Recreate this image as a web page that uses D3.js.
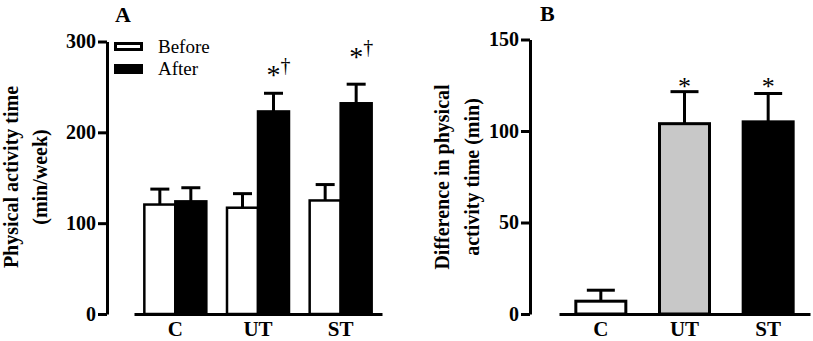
<!DOCTYPE html>
<html>
<head>
<meta charset="utf-8">
<script src="https://cdn.jsdelivr.net/npm/d3@7"></script>
<style>
  body { margin: 0; background: #fff; }
  svg { display: block; }
  text { font-family: "Liberation Serif", "Times New Roman", serif; fill: #000; }
</style>
</head>
<body>
<div id="container"></div>
<script>
// data
let groups = ["C", "UT", "ST"];
let phases = ["Before", "After"];

// panel A: physical activity time (min/week)
let beforeMean = [120.5, 117, 125];
let beforeSem = [17, 15.5, 17.5];
let afterMean = [124, 223, 232];
let afterSem = [15, 20, 21];
let sigA = ["", "*\u2020", "*\u2020"];
let sigAHeight = [null, 267, 287];
let ticksA = [0, 100, 200, 300];

// panel B: difference (min)
let diffMean = [7, 104, 105];
let diffSem = [6, 17.5, 15.5];
let sigB = ["", "*", "*"];
let sigBHeight = [null, 126.5, 126.5];
let ticksB = [0, 50, 100, 150];
let diffColors = ["#ffffff", "#c8c8c8", "#000000"];

let w = 813;
let h = 341;

let viz = d3.select("#container")
  .append("svg")
    .attr("width", w)
    .attr("height", h)
    .style("background-color", "#fff");

function styleAxis(g) {
  g.select(".domain").attr("stroke", "#000").attr("stroke-width", 3);
  g.selectAll(".tick line").attr("stroke", "#000").attr("stroke-width", 3);
  g.selectAll(".tick text")
    .attr("fill", "#000")
    .style("font-family", '"Liberation Serif", "Times New Roman", serif')
    .style("font-weight", "bold")
    .style("font-size", "20px");
}

// ---------- panel A ----------
let xA = d3.scaleBand().domain(groups).range([134, 382]).padding(0);
let subA = d3.scaleBand().domain(phases).range([-31, 31]).padding(0);
let yA = d3.scaleLinear().domain([0, 300]).range([314, 41.5]);

let yAxisA = viz.append("g").attr("transform", "translate(107,0)")
  .call(d3.axisLeft(yA).tickValues(ticksA).tickSize(9).tickSizeOuter(0).tickPadding(2));
styleAxis(yAxisA);

let xAxisA = viz.append("g").attr("transform", "translate(0,314)")
  .call(d3.axisBottom(xA).tickSize(0).tickSizeOuter(0).tickPadding(7));
styleAxis(xAxisA);
xAxisA.selectAll(".tick text").style("font-size", "21px");

let dataA = [];
groups.forEach(function(g, i) {
  dataA.push({group: g, phase: "Before", mean: beforeMean[i], sem: beforeSem[i]});
  dataA.push({group: g, phase: "After", mean: afterMean[i], sem: afterSem[i]});
});

function cx(d) {
  return xA(d.group) + xA.bandwidth() / 2 + subA(d.phase) + subA.bandwidth() / 2;
}

// error bars first so the bar covers the stem bottom
let errA = viz.selectAll(".errA").data(dataA).enter().append("g").attr("class", "errA");
errA.append("line")
  .attr("x1", cx).attr("x2", cx)
  .attr("y1", d => yA(d.mean)).attr("y2", d => yA(d.mean + d.sem))
  .attr("stroke", "#000").attr("stroke-width", 3);
errA.append("line")
  .attr("x1", d => cx(d) - 9.5).attr("x2", d => cx(d) + 9.5)
  .attr("y1", d => yA(d.mean + d.sem)).attr("y2", d => yA(d.mean + d.sem))
  .attr("stroke", "#000").attr("stroke-width", 3);

viz.selectAll(".barA").data(dataA).enter().append("rect")
  .attr("class", "barA")
  .attr("x", d => xA(d.group) + xA.bandwidth() / 2 + subA(d.phase))
  .attr("width", subA.bandwidth())
  .attr("y", d => yA(d.mean))
  .attr("height", d => yA(0) - yA(d.mean))
  .attr("fill", d => d.phase == "Before" ? "#fff" : "#000")
  .attr("stroke", "#000")
  .attr("stroke-width", 2.5);

// significance marks over the After bars
groups.forEach(function(g, i) {
  if (!sigA[i]) return;
  let x = xA(g) + xA.bandwidth() / 2 + subA("After") + subA.bandwidth() / 2;
  let yc = yA(sigAHeight[i]);
  viz.append("text").attr("x", x).attr("y", yc + 13)
    .attr("text-anchor", "middle").style("font-size", "28px").text(sigA[i][0]);
  viz.append("text").attr("x", x + 7).attr("y", yc + 1)
    .attr("text-anchor", "start").style("font-size", "20px").text(sigA[i][1]);
});

// legend
let legend = viz.append("g").attr("transform", "translate(114,42)");
phases.forEach(function(p, i) {
  if (p == "Before") {
    legend.append("rect").attr("x", 1.5).attr("y", 1.5).attr("width", 26).attr("height", 6)
      .attr("fill", "#fff").attr("stroke", "#000").attr("stroke-width", 3);
  } else {
    legend.append("rect").attr("x", 0).attr("y", 22).attr("width", 29).attr("height", 10)
      .attr("fill", "#000");
  }
  legend.append("text").attr("x", 44).attr("y", 11 + i * 22)
    .style("font-size", "19px").text(p);
});

viz.append("text").attr("x", 115).attr("y", 22)
  .style("font-size", "22px").style("font-weight", "bold").text("A");

let labelA = ["Physical activity time", "(min/week)"];
labelA.forEach(function(t, i) {
  viz.append("text")
    .attr("transform", "translate(" + (18 + i * 29) + ",177) rotate(-90)")
    .attr("text-anchor", "middle")
    .style("font-size", "20px").style("font-weight", "bold")
    .text(t);
});

// ---------- panel B ----------
let xB = d3.scaleBand().domain(groups).range([559, 810]).padding(0);
let yB = d3.scaleLinear().domain([0, 150]).range([314, 39.5]);
let barWB = 50;

let yAxisB = viz.append("g").attr("transform", "translate(530,0)")
  .call(d3.axisLeft(yB).tickValues(ticksB).tickSize(9).tickSizeOuter(0).tickPadding(2));
styleAxis(yAxisB);

let xAxisB = viz.append("g").attr("transform", "translate(0,314)")
  .call(d3.axisBottom(xB).tickSize(0).tickSizeOuter(0).tickPadding(7));
styleAxis(xAxisB);
xAxisB.selectAll(".tick text").style("font-size", "21px");

let dataB = groups.map(function(g, i) {
  return {group: g, mean: diffMean[i], sem: diffSem[i], color: diffColors[i], sig: sigB[i], sigAt: sigBHeight[i]};
});

function cxB(d) { return xB(d.group) + xB.bandwidth() / 2; }

let errB = viz.selectAll(".errB").data(dataB).enter().append("g").attr("class", "errB");
errB.append("line")
  .attr("x1", cxB).attr("x2", cxB)
  .attr("y1", d => yB(d.mean)).attr("y2", d => yB(d.mean + d.sem))
  .attr("stroke", "#000").attr("stroke-width", 3);
errB.append("line")
  .attr("x1", d => cxB(d) - 14).attr("x2", d => cxB(d) + 14)
  .attr("y1", d => yB(d.mean + d.sem)).attr("y2", d => yB(d.mean + d.sem))
  .attr("stroke", "#000").attr("stroke-width", 3);

viz.selectAll(".barB").data(dataB).enter().append("rect")
  .attr("class", "barB")
  .attr("x", d => cxB(d) - barWB / 2)
  .attr("width", barWB)
  .attr("y", d => yB(d.mean))
  .attr("height", d => yB(0) - yB(d.mean))
  .attr("fill", d => d.color)
  .attr("stroke", "#000")
  .attr("stroke-width", 3);

viz.selectAll(".sigB").data(dataB.filter(d => d.sig)).enter().append("text")
  .attr("class", "sigB")
  .attr("x", cxB)
  .attr("y", d => yB(d.sigAt) + 12)
  .attr("text-anchor", "middle")
  .style("font-size", "26px")
  .text(d => d.sig);

viz.append("text").attr("x", 540).attr("y", 21)
  .style("font-size", "22px").style("font-weight", "bold").text("B");

let labelB = ["Difference in physical", "activity time (min)"];
labelB.forEach(function(t, i) {
  viz.append("text")
    .attr("transform", "translate(" + (449 + i * 30) + ",177) rotate(-90)")
    .attr("text-anchor", "middle")
    .style("font-size", "20px").style("font-weight", "bold")
    .text(t);
});
</script>
</body>
</html>
